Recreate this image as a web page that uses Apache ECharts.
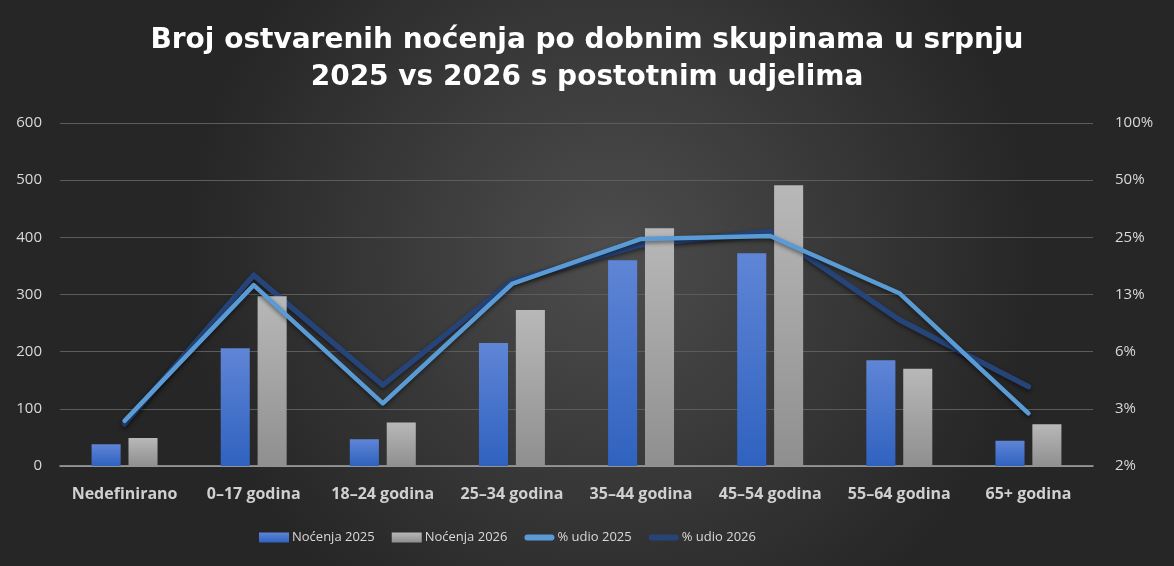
<!DOCTYPE html>
<html><head><meta charset="utf-8">
<script src="https://cdn.jsdelivr.net/npm/echarts@6/dist/echarts.min.js"></script>
<style>html,body{margin:0;padding:0;background:#333;}#c{width:1174px;height:566px;}</style>
</head><body><div id="c"></div>
<script>
var categories = ['Nedefinirano','0–17 godina','18–24 godina','25–34 godina','35–44 godina','45–54 godina','55–64 godina','65+ godina'];
var nocenja2025 = [38, 206, 47, 215, 360, 372, 185, 44];
var nocenja2026 = [49, 297, 76, 273, 416, 491, 170, 73];
var udio2025 = [0.027, 0.140, 0.0334, 0.142, 0.245, 0.254, 0.127, 0.0296];
var udio2026 = [0.026, 0.158, 0.0417, 0.147, 0.228, 0.268, 0.092, 0.0409];
var leftTicks = {min: 0, max: 600, interval: 100};
var rightTicks = {min: 0.015625, max: 1};

var chart = echarts.init(document.getElementById('c'));
var txt = '#d9d9d9';
var lineIcon = 'path://M3,0 H27 A3,3 0 0 1 27,6 H3 A3,3 0 0 1 3,0 Z';
chart.setOption({
  backgroundColor: {type:'radial', x:0.52, y:0.45, r:0.75, colorStops:[{offset:0,color:'#4d4d4d'},{offset:1,color:'#262626'}]},
  title: {
    text: 'Broj ostvarenih noćenja po dobnim skupinama u srpnju\n2025 vs 2026 s postotnim udjelima',
    left: 'center', top: 17,
    textStyle: {color:'#ffffff', fontFamily:'DejaVu Sans', fontWeight:'bold', fontSize:28, lineHeight:37}
  },
  legend: {
    top: 526, left: 254, itemGap: 17, itemWidth: 30, itemHeight: 10,
    textStyle: {color: txt, fontFamily:'Open Sans', fontSize: 13, padding:[0,0,0,-2]},
    data: [
      {name:'Noćenja 2025', icon:'rect'},
      {name:'Noćenja 2026', icon:'rect'},
      {name:'% udio 2025', icon: lineIcon},
      {name:'% udio 2026', icon: lineIcon}
    ]
  },
  grid: {left: 60, right: 81, top: 123, bottom: 100},
  xAxis: {
    type:'category', data: categories,
    axisLine:{lineStyle:{color:'#a6a6a6', width:1.5}},
    axisTick:{show:false},
    axisLabel:{interval:0, color:'#d0d0d0', fontFamily:'Open Sans', fontWeight:'bold', fontSize:16, margin:20}
  },
  yAxis: [
    {type:'value', min:leftTicks.min, max:leftTicks.max, interval:leftTicks.interval,
     axisLabel:{color:txt, fontFamily:'Open Sans', fontSize:15, margin:18},
     axisLine:{show:false}, axisTick:{show:false},
     splitLine:{lineStyle:{color:'#5c5c5c', width:1}}},
    {type:'log', logBase:2, min:rightTicks.min, max:rightTicks.max, interval:1,
     axisLabel:{color:txt, fontFamily:'Open Sans', fontSize:15, margin:22,
       formatter:function(v){return Math.round(v*100)+'%';}},
     axisLine:{show:false}, axisTick:{show:false}, splitLine:{show:false}}
  ],
  series: [
    {name:'Noćenja 2025', type:'bar', data:nocenja2025, barWidth:'22.5%', barGap:'27%',
     itemStyle:{color:{type:'linear',x:0,y:0,x2:0,y2:1,colorStops:[{offset:0,color:'#5f85d6'},{offset:1,color:'#2f62bf'}]},
       shadowColor:'rgba(0,0,0,0.4)', shadowBlur:4, shadowOffsetX:1, shadowOffsetY:1}},
    {name:'Noćenja 2026', type:'bar', data:nocenja2026, barWidth:'22.5%', barGap:'27%',
     itemStyle:{color:{type:'linear',x:0,y:0,x2:0,y2:1,colorStops:[{offset:0,color:'#b8b8b8'},{offset:1,color:'#8f8f8f'}]},
       shadowColor:'rgba(0,0,0,0.4)', shadowBlur:4, shadowOffsetX:1, shadowOffsetY:1}},
    {name:'% udio 2025', type:'line', yAxisIndex:1, data:udio2025, symbol:'none',
     lineStyle:{color:'#5b9bd5', width:4.5, cap:'round', join:'round', shadowColor:'rgba(0,0,0,0.5)', shadowBlur:4, shadowOffsetY:2},
     itemStyle:{color:'#5b9bd5'}},
    {name:'% udio 2026', type:'line', yAxisIndex:1, data:udio2026, symbol:'none', z:1,
     lineStyle:{color:'#264478', width:5.5, cap:'round', join:'round', shadowColor:'rgba(0,0,0,0.5)', shadowBlur:4, shadowOffsetY:2},
     itemStyle:{color:'#264478'}}
  ]
});
</script></body></html>
